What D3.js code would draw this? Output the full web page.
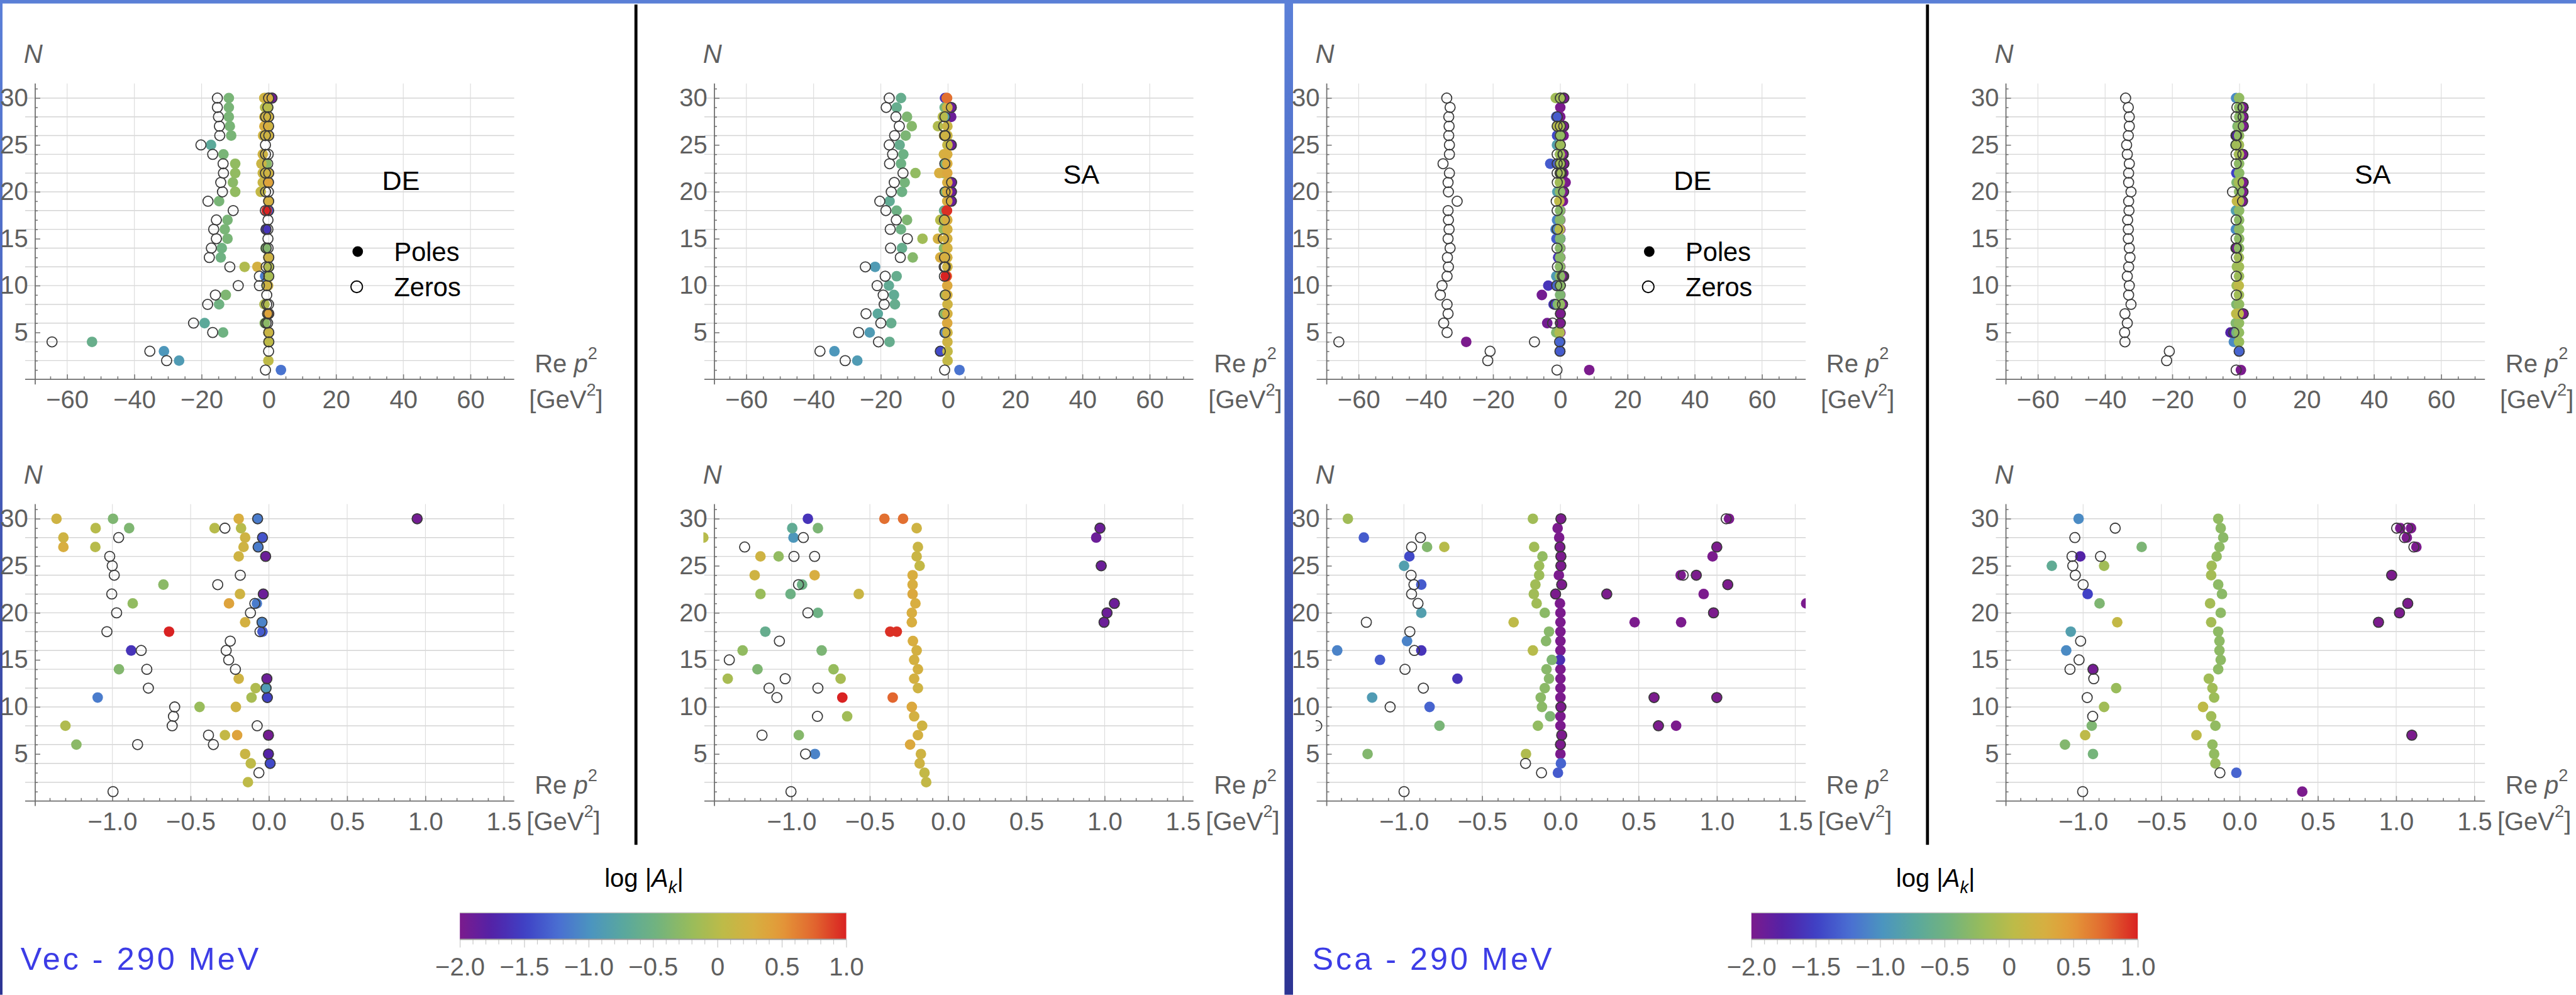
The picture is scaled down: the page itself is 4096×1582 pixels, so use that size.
<!DOCTYPE html>
<html>
<head>
<meta charset="utf-8">
<script src="https://cdn.jsdelivr.net/npm/d3@7"></script>
<style>
  html, body { margin: 0; padding: 0; background: #fff; overflow: hidden; }
  svg { display: block; }
</style>
</head>
<body>
<svg id="fig"></svg>
<script>
// ---------------------------------------------------------------
// Poles [Re p^2, N, log|A_k|] and zeros [Re p^2, N] of the Padé
// approximants, for the vector (Vec) and scalar (Sca) channels,
// with the DE and SA reconstruction methods.
// ---------------------------------------------------------------
const vecDEPoles = [
  [-11.9,30,-0.42],[-11.9,29,-0.42],[-11.9,28,-0.42],[-11.6,27,-0.42],[-11.2,26,-0.42],[-17.2,25,-0.7],
  [-13.5,24,-0.42],[-10.0,23,-0.25],[-10.0,22,-0.25],[-10.7,21,-0.3],[-10.0,20,-0.25],[-14.8,19,-0.42],
  [-12.3,17,-0.42],[-13.1,16,-0.42],[-12.3,15,-0.42],[-14.0,14,-0.5],[-14.3,13,-0.5],[-7.2,12,-0.05],
  [-3.4,12,0.25],[-12.8,9,-0.38],[-14.8,8,-0.5],[-19.1,6,-0.7],[-13.6,5,-0.5],[-52.6,4,-0.58],
  [-31.2,3,-0.95],[-26.7,2,-0.9],[3.6,1,-1.2],
  [-1.7,26,0.2],[-1.8,24,0.2],[-2.2,23,0.15],[-1.8,22,0.15],[-1.8,21,0.15],[-2.4,20,0.1],
  [-1.357,30,0.2],[-0.996,30,-0.38],[-0.193,30,0.3],[-0.072,30,-1.15],[0.947,30,-1.95],
  [-1.107,29,0.0],[-0.893,29,-0.38],[-0.347,29,0.0],[-0.178,29,0.0],
  [-1.313,28,0.2],[-0.152,28,0.2],[-0.041,28,-1.4],
  [-1.313,27,0.3],[-1.109,27,0.0],[-0.162,27,0.2],[-0.069,27,-1.15],
  [-0.193,26,0.2],[-0.021,26,-1.9],
  [-0.674,23,-0.3],
  [-0.185,22,0.2],[-0.036,22,-1.9],
  [-0.870,21,-0.25],[-0.255,21,0.4],[-0.077,21,-1.15],
  [-0.152,19,0.25],[-0.044,19,-1.1],
  [-0.638,18,1.0],[-0.041,18,-1.35],
  [-0.880,16,-1.6],
  [-0.958,14,-0.35],
  [-0.193,13,0.2],[-0.013,13,-1.9],
  [-0.085,12,-0.05],[-0.018,12,-0.9],
  [-1.094,11,-1.15],[-0.111,11,-0.1],[-0.010,11,-1.5],
  [-0.443,10,-0.2],[-0.211,10,0.2],
  [-1.300,8,-0.05],
  [-0.281,7,0.1],[-0.203,7,0.4],[-0.003,7,-1.95],
  [-1.230,6,-0.3],
  [-0.152,5,0.15],[-0.003,5,-1.75],
  [-0.116,4,0.05],[0.008,4,-1.45],
  [-0.134,2,0.05]
];
const vecDEZeros = [
  [-15.3,30],[-15.3,29],[-15.0,28],[-14.7,27],[-14.6,26],[-20.2,25],[-16.7,24],[-13.6,23],[-13.5,22],
  [-14.3,21],[-13.8,20],[-18.1,19],[-10.6,18],[-15.6,17],[-16.4,16],[-15.6,15],[-17.1,14],[-17.7,13],
  [-11.6,12],[-2.8,11],[-9.1,10],[-2.8,10],[-15.9,9],[-18.2,8],[-22.4,6],[-16.7,5],[-64.5,4],
  [-35.4,3],[-30.4,2],
  [-0.072,30],[0.947,30],[-0.041,28],[-0.069,27],[-0.021,26],[-0.036,22],[-0.044,19],[-0.013,13],
  [-0.018,12],[-0.010,11],[-0.003,7],[-0.003,5],[0.008,4],
  [-0.281,29],[-0.96,28],[-1.017,26],[-1.001,25],[-0.988,24],[-0.183,24],[-0.327,23],[-1.004,22],
  [-0.090,21],[-0.973,20],[-0.118,20],[-1.035,18],[-0.057,18],[-0.247,17],[-0.816,16],[-0.273,16],
  [-0.257,15],[-0.780,14],[-0.214,14],[-0.770,12],[-0.602,10],[-0.610,9],[-0.618,8],[-0.075,8],
  [-0.386,7],[-0.839,6],[-0.355,6],[-0.064,3],[-0.996,1]
];

const vecSAPoles = [
  [-14.0,30,-0.6],[-15.3,29,-0.6],[-12.2,28,-0.38],[-10.8,27,-0.33],[-12.6,26,-0.4],[-14.4,25,-0.6],
  [-13.3,24,-0.52],[-14.0,23,-0.52],[-9.7,22,-0.25],[-12.9,21,-0.45],[-13.7,20,-0.52],[-17.4,19,-0.65],
  [-15.3,18,-0.52],[-12.2,17,-0.38],[-14.0,16,-0.52],[-7.6,15,-0.15],[-3.0,15,0.25],[-13.7,14,-0.6],
  [-10.5,13,-0.33],[-21.7,12,-0.9],[-15.3,11,-0.6],[-17.6,10,-0.65],[-16.1,9,-0.65],[-15.8,8,-0.6],
  [-20.9,7,-0.72],[-16.9,6,-0.6],[-23.3,5,-0.9],[-17.4,4,-0.6],[-33.8,3,-0.95],[-27.0,2,-0.9],
  [3.4,1,-1.2],
  [-3.0,27,-0.05],[-2.6,22,0.3],[-2.3,17,0.0],[-2.3,13,0.3],[-2.3,3,-1.45],
  [-0.896,30,-1.6],[-0.407,30,0.7],[-0.288,30,0.7],
  [-0.996,29,-0.65],[-0.832,29,-0.4],[-0.201,29,0.2],[0.970,29,-1.9],
  [-1.564,28,0.0],[-0.988,28,-0.95],[0.946,28,-1.9],
  [-0.193,27,0.15],
  [-1.199,26,0.2],[-1.083,26,-0.25],[-0.201,26,0.15],
  [-0.182,25,0.1],[0.978,25,-1.9],
  [-1.236,24,0.2],[-0.853,24,0.3],[-0.227,24,0.3],
  [-0.933,23,-0.52],[-0.227,23,0.3],
  [-1.199,22,-0.2],[-1.007,22,-0.52],[-0.571,22,0.15],[-0.227,22,0.35],
  [-0.209,21,0.3],[1.062,21,-1.9],
  [-0.832,20,-0.52],[-0.232,20,0.3],[1.015,20,-1.9],
  [-0.232,19,0.3],[0.996,19,-1.9],
  [-1.168,18,-0.6],[-0.370,18,0.95],[-0.328,18,0.95],
  [-0.225,17,0.3],
  [-1.313,16,-0.25],[-0.808,16,-0.4],[-0.201,16,0.25],
  [-0.217,15,0.25],
  [-1.218,14,-0.38],[-0.732,14,-0.22],[-0.193,14,0.25],
  [-1.408,13,-0.1],[-0.687,13,-0.1],[-0.217,13,0.25],
  [-0.193,12,0.2],
  [-0.676,11,1.0],[-0.354,11,0.75],
  [-0.232,10,0.35],
  [-0.645,9,-0.15],[-0.217,9,0.25],
  [-0.166,8,0.2],
  [-0.954,7,-0.33],[-0.193,7,0.25],
  [-0.243,6,0.35],
  [-0.851,5,-1.1],[-0.174,5,0.2],
  [-0.182,4,0.2],
  [-0.151,3,0.1],
  [-0.140,2,0.1]
];
const vecSAZeros = [
  [-17.5,30],[-18.4,29],[-15.5,28],[-14.5,27],[-15.9,26],[-17.5,25],[-16.5,24],[-17.4,23],[-13.4,22],
  [-16.0,21],[-16.9,20],[-20.3,19],[-18.5,18],[-15.4,17],[-17.2,16],[-12.1,15],[-17.1,14],[-14.2,13],
  [-24.6,12],[-18.7,11],[-21.1,10],[-19.3,9],[-19.0,8],[-24.4,7],[-20.0,6],[-26.6,5],[-20.7,4],
  [-38.1,3],[-30.6,2],[-2.3,3],
  [0.970,29],[-0.925,28],[-1.300,27],[-0.985,26],[-0.853,26],[0.978,25],[-0.956,23],[1.062,21],
  [-0.896,20],[1.015,20],[0.996,19],[-1.078,17],[-1.398,15],[-1.041,13],[-1.144,12],[-0.832,12],
  [-1.094,11],[-0.835,9],[-1.189,7],[-0.911,5],[-1.004,1]
];

const scaDEPoles = [
  [-28.0,4,-2.0],[8.6,1,-2.0],[-3.6,10,-1.6],[-5.5,9,-1.95],[-2.0,8,-1.6],[-3.9,6,-1.95],[-3.0,23,-1.35],
  [-1.358,30,-0.15],[-0.176,30,-0.15],[0.003,30,-2.0],[1.077,30,-2.0],
  [-0.018,29,-2.0],
  [-1.256,28,-1.35],[-0.008,28,-2.0],
  [-0.852,27,-0.35],[-0.742,27,0.0],[-0.168,27,-0.15],[-0.003,27,-2.0],[0.999,27,-2.0],
  [-0.965,26,-1.45],[-0.115,26,-0.25],[0.003,26,-2.0],[0.972,26,-2.0],
  [-0.999,25,-0.85],[-0.136,25,-0.18],[0.003,25,-2.0],
  [-0.136,24,-0.18],[-0.010,24,-2.0],[0.768,24,-2.0],[0.868,24,-2.0],
  [-0.889,23,-1.35],[-0.160,23,-0.15],[0.008,23,-2.0],[1.069,23,-2.0],
  [-0.170,22,-0.15],[-0.031,22,-2.0],[0.296,22,-2.0],[0.915,22,-2.0],
  [-0.152,21,-0.15],[-0.003,21,-2.0],[1.57,21,-2.0],
  [-0.889,20,-0.85],[-0.100,20,-0.3],[0.0,20,-2.0],[0.978,20,-2.0],
  [-0.299,19,0.05],[0.0,19,-2.0],[0.474,19,-2.0],[0.771,19,-2.0],
  [-0.073,18,-0.32],[0.0,18,-2.0],
  [-0.980,17,-1.1],[-0.092,17,-0.32],[0.0,17,-2.0],
  [-1.426,16,-1.1],[-0.889,16,-1.6],[-0.176,16,0.0],[0.0,16,-2.0],
  [-1.153,15,-1.35],[-0.055,15,-0.38],[-0.003,15,-1.65],
  [-0.089,14,-0.32],[0.0,14,-2.0],
  [-0.658,13,-1.6],[-0.073,13,-0.32],[0.0,13,-2.0],
  [-0.100,12,-0.3],[0.0,12,-2.0],
  [-1.203,11,-0.9],[-0.126,11,-0.3],[0.0,11,-2.0],[0.598,11,-2.0],[0.999,11,-2.0],
  [-0.836,10,-1.3],[-0.118,10,-0.3],[0.003,10,-2.0],
  [-0.066,9,-0.38],[0.0,9,-2.0],
  [-0.773,8,-0.42],[-0.144,8,-0.25],[0.0,8,-2.0],[0.626,8,-2.0],[0.739,8,-2.0],
  [0.008,7,-2.0],
  [0.0,6,-2.0],
  [-1.232,5,-0.35],[-0.220,5,-0.05],[0.0,5,-2.0],
  [0.003,4,-1.3],
  [-0.016,3,-1.35]
];
const scaDEZeros = [
  [-33.8,30],[-32.8,29],[-33.2,28],[-33.1,27],[-33.2,26],[-33.0,25],[-33.0,24],[-34.9,23],[-33.0,22],
  [-33.4,21],[-33.3,20],[-30.7,19],[-33.4,18],[-33.3,17],[-33.1,16],[-33.4,15],[-32.8,14],[-33.6,13],
  [-33.3,12],[-33.7,11],[-35.2,10],[-35.7,9],[-33.7,8],[-33.4,7],[-34.7,6],[-33.7,5],[-65.9,4],
  [-7.7,4],[-20.9,3],[-21.6,2],[-2.3,6],
  [0.003,30],[1.059,30],[-0.894,28],[-0.951,27],[-0.003,27],[0.999,27],[0.003,26],[0.003,25],
  [-0.954,24],[0.784,24],[0.868,24],[-0.936,23],[0.008,23],[1.069,23],[-0.951,22],[-0.031,22],
  [0.296,22],[-0.910,21],[0.978,20],[-1.240,19],[-0.962,18],[-0.933,16],[-0.993,14],[-0.876,12],
  [0.598,11],[0.999,11],[-1.088,10],[0.003,10],[-1.557,8],[0.626,8],[0.008,7],[0.0,6],
  [-0.223,4],[-0.121,3],[-0.999,1]
];

const scaSAPoles = [
  [-2.7,5,-1.75],[-1.7,4,-1.05],
  [-1.029,30,-1.05],[-0.137,30,-0.25],
  [-0.121,29,-0.28],[1.026,29,-2.0],[1.095,29,-2.0],
  [-0.105,28,-0.3],[1.068,28,-2.0],
  [-0.626,27,-0.4],[-0.129,27,-0.28],[1.129,27,-2.0],
  [-1.018,26,-1.75],[-0.147,26,-0.25],
  [-1.2,25,-0.65],[-0.866,25,-0.15],[-0.179,25,-0.15],
  [-0.182,24,-0.12],[0.971,24,-2.0],
  [-0.137,23,-0.28],
  [-0.971,22,-1.5],[-0.113,22,-0.3],
  [-0.895,21,-0.38],[-0.189,21,-0.12],[1.074,21,-2.0],
  [-0.121,20,-0.28],[1.021,20,-2.0],
  [-0.782,19,0.1],[-0.182,19,-0.12],[0.887,19,-2.0],
  [-1.079,18,-0.85],[-0.137,18,-0.28],
  [-0.129,17,-0.28],
  [-1.108,16,-1.05],[-0.129,16,-0.28],
  [-0.121,15,-0.28],
  [-0.937,14,-1.95],[-0.137,14,-0.28],
  [-0.197,13,-0.15],
  [-0.789,12,-0.2],[-0.174,12,-0.15],
  [-0.163,11,-0.18],
  [-0.866,10,-0.15],[-0.234,10,0.05],
  [-0.182,9,-0.15],
  [-0.945,8,-0.38],[-0.155,8,-0.25],
  [-0.987,7,0.05],[-0.276,7,0.05],[1.1,7,-2.0],
  [-1.116,6,-0.35],[-0.174,6,-0.25],
  [-0.937,5,-0.45],[-0.163,5,-0.25],
  [-0.155,4,-0.2],
  [-0.021,3,-1.3],
  [0.4,1,-2.0]
];
const scaSAZeros = [
  [-33.9,30],[-33.1,29],[-32.8,28],[-32.8,27],[-33.1,26],[-33.6,25],[-33.4,24],[-32.8,23],[-33.0,22],
  [-33.0,21],[-32.3,20],[-33.0,19],[-32.9,18],[-33.3,17],[-33.1,16],[-33.1,15],[-32.8,14],[-32.6,13],
  [-33.0,12],[-33.4,11],[-32.8,10],[-33.0,9],[-32.3,8],[-34.1,7],[-33.4,6],[-34.2,5],[-34.1,4],
  [-20.9,3],[-21.7,2],[-1.7,5],[-2.1,20],
  [-0.795,29],[1.003,29],[1.074,29],[-1.053,28],[1.053,28],[1.113,27],[-1.071,26],[-0.889,26],
  [-1.066,25],[-1.05,24],[0.971,24],[-1.0,23],[1.074,21],[1.021,20],[0.887,19],[-1.016,17],
  [-1.026,15],[-1.084,14],[-0.937,14],[-0.932,13],[-0.974,11],[-0.939,9],[1.1,7],[-0.126,3],[-1.003,1]
];

// Axis ticks and labels
const nTicks = [5, 10, 15, 20, 25, 30];
const reTicksWide = [-60, -40, -20, 0, 20, 40, 60];
const reTicksZoom = [-1.0, -0.5, 0.0, 0.5, 1.0, 1.5];
const cbTicks = [-2.0, -1.5, -1.0, -0.5, 0, 0.5, 1.0];
const cbTickLabels = ["\u22122.0", "\u22121.5", "\u22121.0", "\u22120.5", "0", "0.5", "1.0"];
const channelLabels = ["Vec - 290 MeV", "Sca - 290 MeV"];
const methodLabels = ["DE", "SA", "DE", "SA"];
const legendLabels = ["Poles", "Zeros"];

// Rainbow colour function for log|A_k| on [-2, 1]
const rainbowPos = [0, 0.085, 0.17, 0.255, 0.34, 0.425, 0.51, 0.595, 0.68, 0.766, 0.83, 0.915, 1];
const rainbowCol = ["#7b1b8d", "#5222a8", "#3f42c6", "#4a6fd2", "#4b95bf", "#5aa89d", "#72b37e",
                    "#97bc5c", "#bdbb48", "#d8ae40", "#e39939", "#e2672f", "#d92222"];

// ---------------------------------------------------------------
const K = 0.8;                       // drawing scale
const FONT = '"Liberation Sans", Arial, Helvetica, sans-serif';
const GRAY = "#5f5f5f";
const HALF = 2567;                   // horizontal offset of the scalar half
const PW = 952;                      // plot width
const R = 10.5;                      // marker radius

const svg = d3.select("#fig").attr("width", 4096).attr("height", 1582);
const defs = svg.append("defs");
const root = svg.append("g").attr("transform", `scale(${K})`);
root.append("rect").attr("width", 5120).attr("height", 1977).attr("fill", "#fff");

const colour = d3.scaleLinear()
  .domain(rainbowPos.map(t => -2 + 3 * t))
  .range(rainbowCol)
  .interpolate(d3.interpolateRgb)
  .clamp(true);

// Frame
const fg = defs.append("linearGradient").attr("id", "frameGrad")
  .attr("gradientUnits", "userSpaceOnUse").attr("x1", 0).attr("y1", 0).attr("x2", 0).attr("y2", 1977);
fg.append("stop").attr("offset", 0).attr("stop-color", "#5b80d8");
fg.append("stop").attr("offset", 1).attr("stop-color", "#2d3493");
root.append("rect").attr("x", 0).attr("y", 0).attr("width", 5120).attr("height", 7).attr("fill", "#5a7fd6");
root.append("rect").attr("x", 0).attr("y", 0).attr("width", 5).attr("height", 1977).attr("fill", "url(#frameGrad)");
root.append("rect").attr("x", 2553).attr("y", 0).attr("width", 17).attr("height", 1977).attr("fill", "url(#frameGrad)");

// Black separators between DE and SA
[1261, 1261 + HALF].forEach(x => {
  root.append("rect").attr("x", x).attr("y", 9).attr("width", 6).attr("height", 1670).attr("fill", "#000");
});

// Panels
const columns = [
  { xL: 70,          poles: vecDEPoles, zeros: vecDEZeros, tag: methodLabels[0], legend: true },
  { xL: 1420,        poles: vecSAPoles, zeros: vecSAZeros, tag: methodLabels[1], legend: false },
  { xL: 70 + HALF,   poles: scaDEPoles, zeros: scaDEZeros, tag: methodLabels[2], legend: true },
  { xL: 1420 + HALF, poles: scaSAPoles, zeros: scaSAZeros, tag: methodLabels[3], legend: false }
];
const rows = [
  { y0: 754,  yTop: 166,  domain: [-69.5, 73],     major: reTicksWide, minorStep: 5,   fmt: d3.format("d"),   top: true },
  { y0: 1592, yTop: 1002, domain: [-1.493, 1.567], major: reTicksZoom, minorStep: 0.1, fmt: d3.format(".1f"), top: false }
];
const gridN = d3.range(2, 31, 2);
const minorN = d3.range(1, 32).filter(n => n % 5 !== 0);

function styleAxis(g) {
  g.attr("font-family", FONT).attr("font-size", 50);
  g.select(".domain").remove();
  g.selectAll(".tick line").attr("stroke", "#7a7a7a").attr("stroke-width", 2);
  g.selectAll(".tick text").attr("fill", GRAY);
}

let clipId = 0;
columns.forEach(col => {
  // small |A_k| first, so the larger residues sit on top
  const poles = col.poles.slice().sort((a, b) => a[2] - b[2]);
  rows.forEach(row => {
    const xL = col.xL, xR = col.xL + PW;
    const x = d3.scaleLinear().domain(row.domain).range([xL, xR]);
    const y = d3.scaleLinear().domain([0, 31.55]).range([row.y0, row.yTop]);
    const g = root.append("g");

    // grid
    g.append("g").selectAll("line").data(gridN).join("line")
      .attr("x1", xL - 20).attr("x2", xR).attr("y1", d => y(d)).attr("y2", d => y(d))
      .attr("stroke", "#d4d4d4").attr("stroke-width", 1.8);
    g.append("g").selectAll("line").data(row.major).join("line")
      .attr("x1", d => x(d)).attr("x2", d => x(d)).attr("y1", row.yTop).attr("y2", row.y0)
      .attr("stroke", "#dcdcdc").attr("stroke-width", 1.4);

    // x axis
    const [d0, d1] = row.domain;
    const st = row.minorStep;
    const minorX = d3.range(Math.ceil(d0 / st), Math.floor(d1 / st) + 1)
      .map(i => +(i * st).toFixed(3))
      .filter(v => !row.major.some(m => Math.abs(m - v) < 1e-9));
    const xMinor = g.append("g").attr("transform", `translate(0,${row.y0})`)
      .call(d3.axisBottom(x).tickValues(minorX).tickFormat("").tickSizeInner(-6).tickSizeOuter(0));
    styleAxis(xMinor);
    const xMajor = g.append("g").attr("transform", `translate(0,${row.y0})`)
      .call(d3.axisBottom(x).tickValues(row.major).tickFormat(row.fmt).tickSizeInner(-10).tickSizeOuter(0));
    styleAxis(xMajor);
    xMajor.selectAll(".tick text").attr("y", 40).attr("dy", "0.35em");
    g.append("line").attr("x1", xL - 20).attr("x2", xR).attr("y1", row.y0).attr("y2", row.y0)
      .attr("stroke", "#6e6e6e").attr("stroke-width", 2.2);

    // y axis
    const yMinor = g.append("g").attr("transform", `translate(${xL},0)`)
      .call(d3.axisLeft(y).tickValues(minorN).tickFormat("").tickSizeInner(-5).tickSizeOuter(0));
    styleAxis(yMinor);
    const yMajor = g.append("g").attr("transform", `translate(${xL},0)`)
      .call(d3.axisLeft(y).tickValues(nTicks).tickFormat(d3.format("d")).tickSizeInner(-10).tickSizeOuter(0).tickPadding(14));
    styleAxis(yMajor);
    g.append("line").attr("x1", xL).attr("x2", xL).attr("y1", row.yTop).attr("y2", row.y0 + 10)
      .attr("stroke", "#6e6e6e").attr("stroke-width", 2.2);

    // axis labels
    g.append("text").attr("x", xL - 4).attr("y", row.yTop - 59).attr("dy", "0.35em")
      .attr("text-anchor", "middle").attr("font-family", FONT).attr("font-size", 52)
      .attr("font-style", "italic").attr("fill", GRAY).text("N");
    const re = g.append("text").attr("x", xL + 1055).attr("y", row.y0 - 32).attr("dy", "0.35em")
      .attr("text-anchor", "middle").attr("font-family", FONT).attr("font-size", 50).attr("fill", GRAY);
    re.append("tspan").text("Re ");
    re.append("tspan").attr("font-style", "italic").text("p");
    re.append("tspan").attr("font-size", 34).attr("dy", "-0.75em").text("2");
    const un = g.append("text").attr("x", xL + (row.top ? 1055 : 1050)).attr("y", row.y0 + 40).attr("dy", "0.35em")
      .attr("text-anchor", "middle").attr("font-family", FONT).attr("font-size", 50).attr("fill", GRAY);
    un.append("tspan").text("[GeV");
    un.append("tspan").attr("font-size", 34).attr("dy", "-0.75em").text("2");
    un.append("tspan").attr("dy", "0.5em").text("]");

    // markers, clipped to the plot range
    const id = "clip" + (clipId++);
    defs.append("clipPath").attr("id", id).append("rect")
      .attr("x", xL - 22).attr("y", row.yTop - 15).attr("width", PW + 22).attr("height", row.y0 - row.yTop + 15);
    const m = g.append("g").attr("clip-path", `url(#${id})`);
    m.append("g").selectAll("circle").data(poles).join("circle")
      .attr("cx", d => x(d[0])).attr("cy", d => y(d[1])).attr("r", R)
      .attr("fill", d => colour(d[2]));
    m.append("g").selectAll("circle").data(col.zeros).join("circle")
      .attr("cx", d => x(d[0])).attr("cy", d => y(d[1])).attr("r", R - 0.5)
      .attr("fill", "none").attr("stroke", "#3a3a3a").attr("stroke-width", 2.2);

    // method tag and legend
    if (row.top) {
      const isDE = col.tag === "DE";
      g.append("text").attr("x", xL + (isDE ? 727 : 729)).attr("y", isDE ? 359 : 346).attr("dy", "0.35em")
        .attr("text-anchor", "middle").attr("font-family", FONT).attr("font-size", 54)
        .attr("fill", "#000").text(col.tag);
      if (col.legend) {
        g.append("circle").attr("cx", xL + 641).attr("cy", 500).attr("r", R).attr("fill", "#000");
        g.append("circle").attr("cx", xL + 639).attr("cy", 570).attr("r", R + 1)
          .attr("fill", "none").attr("stroke", "#000").attr("stroke-width", 2.4);
        legendLabels.forEach((t, i) => {
          g.append("text").attr("x", xL + 713).attr("y", 500 + i * 70).attr("dy", "0.35em")
            .attr("font-family", FONT).attr("font-size", 52).attr("fill", "#000").text(t);
        });
      }
    }
  });
});

// Colour bars
const cg = defs.append("linearGradient").attr("id", "cbGrad").attr("x1", 0).attr("x2", 1).attr("y1", 0).attr("y2", 0);
d3.range(0, 1.0001, 0.02).forEach(t => {
  cg.append("stop").attr("offset", t).attr("stop-color", colour(-2 + 3 * t));
});
[0, HALF].forEach((off, i) => {
  const cx = d3.scaleLinear().domain([-2, 1]).range([914 + off, 1682 + off]);
  const g = root.append("g");
  g.append("rect").attr("x", cx(-2)).attr("y", 1814).attr("width", cx(1) - cx(-2)).attr("height", 53)
    .attr("fill", "url(#cbGrad)");
  g.append("line").attr("x1", cx(-2)).attr("x2", cx(1)).attr("y1", 1814).attr("y2", 1814)
    .attr("stroke", "#c4c4c4").attr("stroke-width", 2);
  const minor = d3.range(-20, 11).map(v => v / 10).filter(v => Math.abs(v * 2 - Math.round(v * 2)) > 1e-9);
  const am = g.append("g").attr("transform", "translate(0,1867)")
    .call(d3.axisBottom(cx).tickValues(minor).tickFormat("").tickSizeInner(10).tickSizeOuter(0));
  am.select(".domain").remove();
  am.selectAll(".tick line").attr("stroke", "#c8c8c8").attr("stroke-width", 1.5);
  const aM = g.append("g").attr("transform", "translate(0,1867)")
    .call(d3.axisBottom(cx).tickValues(cbTicks).tickFormat((d, j) => cbTickLabels[j]).tickSizeInner(16).tickSizeOuter(0));
  aM.attr("font-family", FONT).attr("font-size", 50);
  aM.select(".domain").remove();
  aM.selectAll(".tick line").attr("stroke", "#c8c8c8").attr("stroke-width", 1.5);
  aM.selectAll(".tick text").attr("fill", GRAY).attr("y", 54).attr("dy", "0.35em");
  g.append("line").attr("x1", cx(-2)).attr("x2", cx(1)).attr("y1", 1867).attr("y2", 1867)
    .attr("stroke", "#9a9a9a").attr("stroke-width", 2.5);

  const lab = g.append("text").attr("x", 1280 + off).attr("y", 1745).attr("dy", "0.35em")
    .attr("text-anchor", "middle").attr("font-family", FONT).attr("font-size", 50).attr("fill", "#000");
  lab.append("tspan").text("log |");
  lab.append("tspan").attr("font-style", "italic").text("A");
  lab.append("tspan").attr("font-style", "italic").attr("font-size", 34).attr("dy", "0.35em").text("k");
  lab.append("tspan").attr("dy", "-0.24em").text("|");

  g.append("text").attr("x", 41 + off).attr("y", 1928)
    .attr("font-family", FONT).attr("font-size", 63).attr("letter-spacing", 5)
    .attr("fill", "#3c3ce6").text(channelLabels[i]);
});
</script>
</body>
</html>
